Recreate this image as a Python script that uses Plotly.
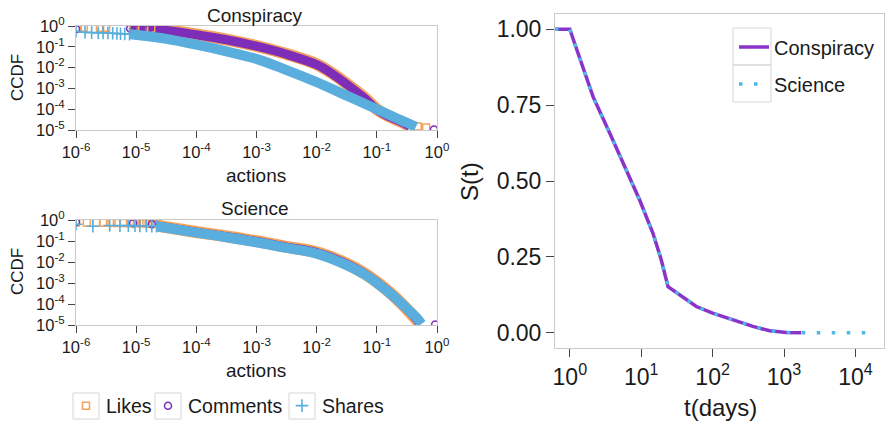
import numpy as np
import plotly.graph_objects as go

W, H = 885, 422
FONT = "Liberation Sans, Arial, sans-serif"
TXT = "#1a1a1a"

C_LIKES = "#F5A25A"
C_COMM = "#7E2DB8"
C_SHARE = "#5AAEDD"
C_CONS = "#8A33C8"
C_SCI = "#4DB8E6"

# ---------------- CCDF panels (values read as log10 exponents) ----------------
# Conspiracy - sparse markers at the low end
cons_likes_pts_logx = [-5.97, -5.87, -5.6, -5.5, -5.05, -4.9, -4.75]
cons_likes_pts_logy = [-0.08, -0.08, -0.08, -0.09, -0.10, -0.11, -0.12]
cons_comm_pts_logx = [-6.0, -5.1, -4.95, -4.8]
cons_comm_pts_logy = [-0.15, -0.12, -0.13, -0.14]
cons_share_pts_logx = [-6.0, -5.85, -5.74, -5.63, -5.55, -5.47, -5.39, -5.32, -5.26, -5.19, -5.11]
cons_share_pts_logy = [-0.25, -0.3, -0.32, -0.33, -0.33, -0.34, -0.35, -0.36, -0.37, -0.38, -0.39]
# Conspiracy - tail markers
cons_likes_tail_logx = [-0.32, -0.18]
cons_likes_tail_logy = [-4.83, -4.88]
cons_comm_tail_logx = [-0.05]
cons_comm_tail_logy = [-4.98]
# Conspiracy - dense bands
cons_comm_band_logx = [-5.1, -4.5, -4.0, -3.5, -3.0, -2.5, -2.0, -1.75, -1.5, -1.2, -1.0, -0.8, -0.6, -0.45]
cons_comm_band_logy = [-0.12, -0.22, -0.42, -0.66, -0.97, -1.36, -1.86, -2.28, -2.8, -3.48, -4.02, -4.35, -4.6, -4.82]
cons_likes_band_logx = [-5.1, -4.5, -4.0, -3.5, -3.0, -2.5, -2.0, -1.75, -1.5, -1.2, -1.0, -0.8, -0.6, -0.45]
cons_likes_band_logy = [-0.11, -0.21, -0.41, -0.65, -0.96, -1.35, -1.84, -2.26, -2.78, -3.46, -4.0, -4.34, -4.6, -4.82]
cons_share_band_logx = [-5.1, -5.0, -4.5, -4.0, -3.5, -3.0, -2.5, -2.0, -1.5, -1.0, -0.7, -0.5, -0.35]
cons_share_band_logy = [-0.40, -0.43, -0.62, -0.9, -1.22, -1.58, -2.12, -2.7, -3.35, -4.0, -4.4, -4.65, -4.85]

# Science - sparse markers
sci_likes_pts_logx = [-6.0, -5.82, -5.66, -5.55, -5.41, -5.32, -5.21, -5.1, -4.99, -4.91, -4.83, -4.74, -4.66]
sci_likes_pts_logy = [-0.12, -0.12, -0.13, -0.13, -0.13, -0.14, -0.14, -0.15, -0.15, -0.16, -0.17, -0.18, -0.19]
sci_comm_pts_logx = [-6.0, -5.05, -4.74]
sci_comm_pts_logy = [-0.1, -0.15, -0.2]
sci_share_pts_logx = [-6.0, -5.72, -5.44, -5.27, -5.13, -5.02, -4.94, -4.83, -4.74, -4.66]
sci_share_pts_logy = [-0.2, -0.3, -0.26, -0.27, -0.27, -0.27, -0.28, -0.28, -0.29, -0.3]
sci_comm_tail_logx = [-0.03]
sci_comm_tail_logy = [-4.98]
# Science - dense bands
sci_likes_band_logx = [-4.66, -4.0, -3.5, -3.0, -2.5, -2.0, -1.5, -1.2, -1.0, -0.8, -0.6, -0.45, -0.34, -0.28]
sci_likes_band_logy = [-0.27, -0.57, -0.78, -1.01, -1.28, -1.54, -2.08, -2.55, -2.95, -3.42, -3.95, -4.4, -4.75, -4.97]
sci_comm_band_logx = [-4.66, -4.0, -3.5, -3.0, -2.5, -2.0, -1.5, -1.2, -1.0, -0.8, -0.6, -0.45, -0.34, -0.28]
sci_comm_band_logy = [-0.28, -0.58, -0.79, -1.02, -1.29, -1.55, -2.1, -2.57, -2.97, -3.43, -3.95, -4.38, -4.72, -4.96]
sci_share_band_logx = [-4.66, -4.0, -3.5, -3.0, -2.5, -2.0, -1.5, -1.2, -1.0, -0.8, -0.6, -0.45, -0.34, -0.26]
sci_share_band_logy = [-0.3, -0.6, -0.82, -1.06, -1.33, -1.6, -2.15, -2.6, -3.0, -3.45, -3.95, -4.35, -4.65, -4.95]

ccdf_x_ticks = [1e-6, 1e-5, 1e-4, 1e-3, 1e-2, 1e-1, 1e0]
ccdf_x_labels = ["10<sup>-6</sup>", "10<sup>-5</sup>", "10<sup>-4</sup>", "10<sup>-3</sup>",
                 "10<sup>-2</sup>", "10<sup>-1</sup>", "10<sup>0</sup>"]
ccdf_y_ticks = [1e-5, 1e-4, 1e-3, 1e-2, 1e-1, 1e0]
ccdf_y_labels = ["10<sup>-5</sup>", "10<sup>-4</sup>", "10<sup>-3</sup>", "10<sup>-2</sup>",
                 "10<sup>-1</sup>", "10<sup>0</sup>"]

# ---------------- Survival panel ----------------
cons_t = [0.62, 1, 1.17, 2.12, 3.63, 5.57, 9.5, 14.6, 19.1, 23.7, 34.5, 59, 100, 193, 366, 630, 1075, 1740]
cons_S = [1.0, 1.0, 0.953, 0.777, 0.657, 0.558, 0.4375, 0.328, 0.24, 0.152, 0.125, 0.0866, 0.065, 0.043, 0.021, 0.0066, 0.001, 0.0]
sci_t = [0.62, 1, 1.17, 2.12, 3.63, 5.57, 9.5, 14.6, 19.1, 23.7, 34.5, 59, 100, 193, 366, 630, 1075, 1740, 16000]
sci_S = [1.0, 1.0, 0.953, 0.777, 0.657, 0.558, 0.4375, 0.328, 0.24, 0.152, 0.125, 0.0866, 0.065, 0.043, 0.021, 0.0066, 0.001, 0.0, 0.0]

surv_x_ticks = [1, 10, 100, 1000, 10000]
surv_x_labels = ["10<sup>0</sup>", "10<sup>1</sup>", "10<sup>2</sup>", "10<sup>3</sup>", "10<sup>4</sup>"]
surv_y_ticks = [0, 0.25, 0.5, 0.75, 1.0]
surv_y_labels = ["0.00", "0.25", "0.50", "0.75", "1.00"]


def p10(a):
    return np.power(10.0, np.array(a))


fig = go.Figure()


def add_panel(xa, ya, likes_band, comm_band, share_band, likes_pts, comm_pts, share_pts,
              tails, first):
    fig.add_trace(go.Scatter(x=p10(likes_band[0]), y=p10(likes_band[1]), mode="lines",
                             line=dict(color=C_LIKES, width=12, shape="spline"),
                             xaxis=xa, yaxis=ya, showlegend=False, hoverinfo="skip"))
    fig.add_trace(go.Scatter(x=p10(comm_band[0]), y=p10(comm_band[1]), mode="lines",
                             line=dict(color=C_COMM, width=9, shape="spline"),
                             xaxis=xa, yaxis=ya, showlegend=False, hoverinfo="skip"))
    for (tx, ty, col, sym) in tails:
        fig.add_trace(go.Scatter(x=p10(tx), y=p10(ty), mode="markers",
                                 marker=dict(symbol=sym, size=7, color=col, line=dict(color=col, width=1.5)),
                                 xaxis=xa, yaxis=ya, showlegend=False, hoverinfo="skip"))
    fig.add_trace(go.Scatter(x=p10(likes_pts[0]), y=p10(likes_pts[1]), mode="markers", name="Likes",
                             marker=dict(symbol="square-open", size=7, color=C_LIKES,
                                         line=dict(color=C_LIKES, width=1.5)),
                             xaxis=xa, yaxis=ya, showlegend=first, legend="legend"))
    fig.add_trace(go.Scatter(x=p10(comm_pts[0]), y=p10(comm_pts[1]), mode="markers", name="Comments",
                             marker=dict(symbol="circle-open", size=7, color=C_COMM,
                                         line=dict(color=C_COMM, width=1.5)),
                             xaxis=xa, yaxis=ya, showlegend=first, legend="legend2"))
    fig.add_trace(go.Scatter(x=p10(share_band[0]), y=p10(share_band[1]), mode="lines",
                             line=dict(color=C_SHARE, width=10, shape="spline"),
                             xaxis=xa, yaxis=ya, showlegend=False, hoverinfo="skip"))
    fig.add_trace(go.Scatter(x=p10(share_pts[0]), y=p10(share_pts[1]), mode="markers", name="Shares",
                             marker=dict(symbol="cross-thin-open", size=9, color=C_SHARE,
                                         line=dict(color=C_SHARE, width=1.6)),
                             xaxis=xa, yaxis=ya, showlegend=first, legend="legend3"))


add_panel("x", "y",
          (cons_likes_band_logx, cons_likes_band_logy),
          (cons_comm_band_logx, cons_comm_band_logy),
          (cons_share_band_logx, cons_share_band_logy),
          (cons_likes_pts_logx, cons_likes_pts_logy),
          (cons_comm_pts_logx, cons_comm_pts_logy),
          (cons_share_pts_logx, cons_share_pts_logy),
          [(cons_likes_tail_logx, cons_likes_tail_logy, C_LIKES, "square-open"),
           (cons_comm_tail_logx, cons_comm_tail_logy, C_COMM, "circle-open")],
          True)
add_panel("x2", "y2",
          (sci_likes_band_logx, sci_likes_band_logy),
          (sci_comm_band_logx, sci_comm_band_logy),
          (sci_share_band_logx, sci_share_band_logy),
          (sci_likes_pts_logx, sci_likes_pts_logy),
          (sci_comm_pts_logx, sci_comm_pts_logy),
          (sci_share_pts_logx, sci_share_pts_logy),
          [(sci_comm_tail_logx, sci_comm_tail_logy, C_COMM, "circle-open")],
          False)

fig.add_trace(go.Scatter(x=cons_t, y=cons_S, mode="lines", name="Conspiracy",
                         line=dict(color=C_CONS, width=3.5),
                         xaxis="x3", yaxis="y3", legend="legend4"))
fig.add_trace(go.Scatter(x=sci_t, y=sci_S, mode="lines", name="Science",
                         line=dict(color=C_SCI, width=3.5, dash="3.5px,11.5px"),
                         xaxis="x3", yaxis="y3", legend="legend5"))


def px_x(p):
    return p / W


def px_y(p):
    return 1 - p / H


frame = "#c9c9c9"
tickc = "#444444"

left_dom = [px_x(76), px_x(437)]
ccdf_xaxis = dict(type="log", range=[-6, 0], tickvals=ccdf_x_ticks, ticktext=ccdf_x_labels,
                  ticks="outside", ticklen=7, tickcolor=tickc, tickwidth=1,
                  showline=True, linecolor=frame, mirror=True, showgrid=False, zeroline=False,
                  tickfont=dict(size=16.5, color=TXT, family=FONT), domain=left_dom)
ccdf_yaxis = dict(type="log", range=[-5, 0], tickvals=ccdf_y_ticks, ticktext=ccdf_y_labels,
                  ticks="outside", ticklen=7, tickcolor=tickc, tickwidth=1,
                  showline=True, linecolor=frame, mirror=True, showgrid=False, zeroline=False,
                  tickfont=dict(size=16.5, color=TXT, family=FONT))

legend_common = dict(orientation="v", bgcolor="rgba(0,0,0,0)", borderwidth=0,
                     xanchor="left", yanchor="middle", itemwidth=30)

fig.update_layout(
    width=W, height=H,
    margin=dict(l=0, r=0, t=0, b=0, autoexpand=False),
    paper_bgcolor="white", plot_bgcolor="white",
    font=dict(family=FONT, color=TXT),
    xaxis=dict(ccdf_xaxis, anchor="y"),
    yaxis=dict(ccdf_yaxis, domain=[px_y(130), px_y(26)], anchor="x"),
    xaxis2=dict(ccdf_xaxis, anchor="y2"),
    yaxis2=dict(ccdf_yaxis, domain=[px_y(325), px_y(220)], anchor="x2"),
    xaxis3=dict(type="log", range=[np.log10(0.62), 4.4], tickvals=surv_x_ticks, ticktext=surv_x_labels,
                ticks="outside", ticklen=8, tickcolor=tickc, showline=True, linecolor=frame, mirror=True,
                showgrid=False, zeroline=False, tickfont=dict(size=23, color=TXT, family=FONT),
                domain=[px_x(555), px_x(884)], anchor="y3"),
    yaxis3=dict(range=[-0.05, 1.05], tickvals=surv_y_ticks, ticktext=surv_y_labels,
                ticks="outside", ticklen=8, tickcolor=tickc, showline=True, linecolor=frame, mirror=True,
                showgrid=False, zeroline=False, tickfont=dict(size=23, color=TXT, family=FONT),
                domain=[px_y(348), px_y(14)], anchor="x3"),
    legend=dict(legend_common, x=px_x(66), y=px_y(406), font=dict(size=19.5, color=TXT, family=FONT)),
    legend2=dict(legend_common, x=px_x(148), y=px_y(406), font=dict(size=19.5, color=TXT, family=FONT)),
    legend3=dict(legend_common, x=px_x(282), y=px_y(406), font=dict(size=19.5, color=TXT, family=FONT)),
    legend4=dict(legend_common, x=px_x(734), y=px_y(47), font=dict(size=20, color=TXT, family=FONT)),
    legend5=dict(legend_common, x=px_x(734), y=px_y(84), font=dict(size=20, color=TXT, family=FONT)),
)

ann = []


def add_text(text, x, y, size, angle=0):
    ann.append(dict(text=text, x=px_x(x), y=px_y(y), xref="paper", yref="paper",
                    showarrow=False, xanchor="center", yanchor="middle", textangle=angle,
                    font=dict(size=size, color=TXT, family=FONT)))


add_text("Conspiracy", 255, 16, 19)
add_text("Science", 255, 208, 19)
add_text("CCDF", 17, 78, 17, -90)
add_text("CCDF", 17, 272, 17, -90)
add_text("actions", 256, 175, 19)
add_text("actions", 256, 370, 19)
add_text("S(t)", 469, 182, 24, -90)
add_text("t(days)", 720, 407, 24)
fig.update_layout(annotations=ann)

key_box = "#d6d6d6"
shapes = []
for (x0, x1, y0, y1) in [(73, 99, 393, 419), (155, 181, 393, 419), (289, 315, 393, 419),
                         (733, 771, 28, 65), (733, 771, 65, 102)]:
    shapes.append(dict(type="rect", xref="paper", yref="paper", x0=px_x(x0), x1=px_x(x1),
                       y0=px_y(y1), y1=px_y(y0), line=dict(color=key_box, width=1), layer="below"))
fig.update_layout(shapes=shapes)

fig.write_html("out.html", config={"displayModeBar": False},
               post_script="document.body.style.margin='0px';document.body.style.overflow='hidden';")
